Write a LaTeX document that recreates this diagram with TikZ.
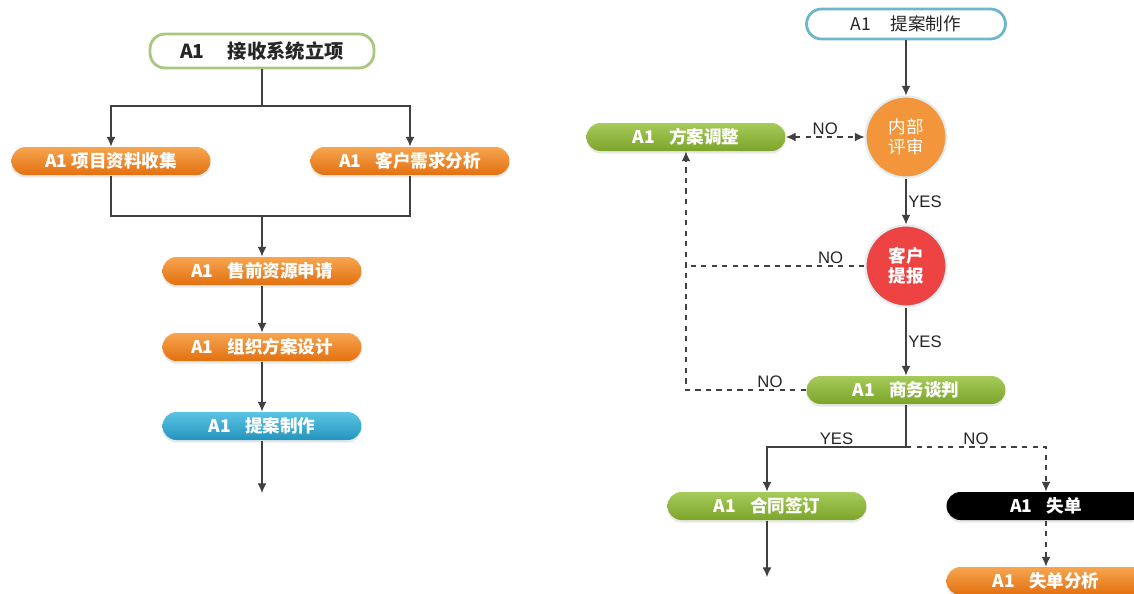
\documentclass[tikz,border=0pt]{standalone}
\usepackage{fontspec}
\setmainfont{Liberation Sans}
\newfontfamily\cjk{Noto Sans CJK SC}
\usepackage{tikz}
\usetikzlibrary{shadows,arrows.meta}

\definecolor{lineg}{HTML}{404040}
\definecolor{orgtop}{HTML}{F7A550}
\definecolor{orgbot}{HTML}{E2700F}
\definecolor{grntop}{HTML}{A6CB5A}
\definecolor{grnbot}{HTML}{7CA42A}
\definecolor{blutop}{HTML}{5CC4E4}
\definecolor{blubot}{HTML}{2494BD}
\definecolor{grnframe}{HTML}{A9C77E}
\definecolor{bluframe}{HTML}{6DB7CE}
\definecolor{circorg}{HTML}{F3953A}
\definecolor{circred}{HTML}{EE4343}
\definecolor{halo}{HTML}{E2EDF2}

\newcommand{\agap}{\hspace{0.8em}}

\tikzstyle{pill} = [rounded corners=0.28cm, minimum width=3.98cm, minimum height=0.56cm, inner sep=0pt, text=white, font=\cjk\bfseries\fontsize{10}{12}\selectfont, drop shadow={opacity=0.18, shadow xshift=0pt, shadow yshift=-1.5pt}]
\tikzstyle{orangebag} = [pill, top color=orgtop, bottom color=orgbot]
\tikzstyle{greenbag} = [pill, top color=grntop, bottom color=grnbot]
\tikzstyle{bluebag} = [pill, top color=blutop, bottom color=blubot]
\tikzstyle{blackbag} = [pill, fill=black]
\tikzstyle{frame} = [rounded corners=0.3cm, fill=white, line width=1.6pt, inner sep=0pt, text=black!85]
\tikzstyle{check} = [circle, minimum size=1.62cm, inner sep=0pt, draw=halo, line width=1.2pt, text=white, align=center, font=\cjk\fontsize{10}{11.5}\selectfont]
\tikzstyle{tag} = [font=\fontsize{9.5}{11}\selectfont, text=black!85, inner sep=1pt]

\begin{document}
\begin{tikzpicture}[x=0.02cm, y=-0.02cm, >={Latex[length=5.5pt,width=5pt]}, line width=0.6pt, color=lineg]
	  \useasboundingbox (0,0) rectangle (1134,593);
	  \clip (0,0) rectangle (1134,593);

	  % left flow
	  \node (a) at (262,51) [frame, draw=grnframe, minimum width=4.48cm, minimum height=0.68cm, font=\cjk\bfseries\fontsize{11}{13}\selectfont] {A1\hspace{1.2em}接收系统立项};
	  \node (b) at (111,161) [orangebag] {A1 项目资料收集};
	  \node (c) at (410,161) [orangebag] {A1\agap 客户需求分析};
	  \node (d) at (262,271) [orangebag] {A1\agap 售前资源申请};
	  \node (e) at (262,347) [orangebag] {A1\agap 组织方案设计};
	  \node (f) at (262,426) [bluebag] {A1\agap 提案制作};
	  \coordinate (s1) at (262,106);
	  \coordinate (s2) at (262,216);
	  \coordinate (z1) at (262,493);

	  \draw (a) -- (s1);
	  \draw [->] (s1) -| (b);
	  \draw [->] (s1) -| (c);
	  \draw (b) |- (s2);
	  \draw (c) |- (s2);
	  \draw [->] (s2) -- (d);
	  \draw [->] (d) -- (e);
	  \draw [->] (e) -- (f);
	  \draw [->] (f) -- (z1);

	  % right flow
	  \node (g) at (906,24) [frame, draw=bluframe, minimum width=3.98cm, minimum height=0.6cm, font=\cjk\fontsize{10}{12}\selectfont] {A1\hspace{1.1em}提案制作};
	  \node (h) at (906,137) [check, fill=circorg] {内部\\评审};
	  \node (i) at (686,137) [greenbag] {A1\agap 方案调整};
	  \node (j) at (906,266) [check, fill=circred, font=\cjk\bfseries\fontsize{10}{11.5}\selectfont] {客户\\提报};
	  \node (k) at (906,390) [greenbag] {A1\agap 商务谈判};
	  \node (l) at (767,506) [greenbag] {A1\agap 合同签订};
	  \node (m) at (1046,506) [blackbag] {A1\agap 失单};
	  \node (n) at (1046,581) [orangebag] {A1\agap 失单分析};
	  \coordinate (t1) at (906,447);
	  \coordinate (z2) at (767,577);

	  \draw [->] (g) -- (h);
	  \draw [<->, dashed] (i) -- node [tag, above] {NO} (h);
	  \draw [->] (h) -- node [tag, right] {YES} (j);
	  \draw [dashed] (j) -- node [tag, above, pos=0.19] {NO} (j -| i);
	  \draw [->] (j) -- node [tag, right] {YES} (k);
	  \draw [->, dashed] (k) -| node [tag, above, pos=0.15] {NO} (i);
	  \draw (k) -- (t1);
	  \draw [->] (t1) -| node [tag, above, pos=0.25] {YES} (l);
	  \draw [->, dashed] (t1) -| node [tag, above, pos=0.25] {NO} (m);
	  \draw [->] (l) -- (z2);
	  \draw [->, dashed] (m) -- (n);
	\end{tikzpicture}
\end{document}
